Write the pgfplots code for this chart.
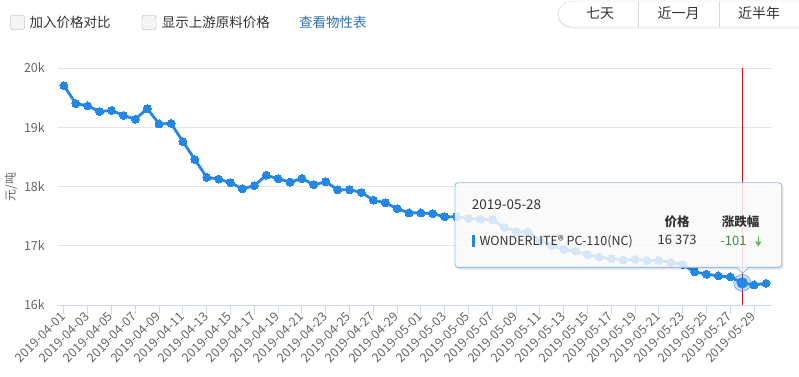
\documentclass[border=0pt]{standalone}
\usepackage{fontspec}
\setmainfont{Noto Sans CJK SC}
\usepackage{pgfplots}
\pgfplotsset{compat=1.18}
\definecolor{linec}{RGB}{36,135,228}
\definecolor{gridc}{RGB}{228,228,228}
\definecolor{axisc}{RGB}{204,214,235}
\definecolor{labc}{RGB}{102,102,102}
\definecolor{txtc}{RGB}{51,51,51}
\definecolor{linkc}{RGB}{45,110,180}
\definecolor{redc}{RGB}{200,20,20}
\definecolor{greenc}{RGB}{60,140,60}
\definecolor{greenar}{RGB}{100,180,80}
\definecolor{tipborder}{RGB}{140,190,235}
\definecolor{btnborder}{RGB}{215,215,215}

\pgfplotstableread{
x y
0 19700
1 19400
2 19360
3 19265
4 19285
5 19200
6 19135
7 19315
8 19055
9 19065
10 18755
11 18455
12 18155
13 18125
14 18065
15 17960
16 18015
17 18190
18 18130
19 18075
20 18135
21 18030
22 18080
23 17945
24 17945
25 17900
26 17770
27 17725
28 17625
29 17555
30 17555
31 17540
32 17490
33 17490
34 17460
35 17450
36 17440
37 17310
38 17240
39 17230
40 17090
41 17000
42 16940
43 16910
44 16850
45 16810
46 16780
47 16760
48 16770
49 16750
50 16750
51 16720
52 16680
53 16560
54 16520
55 16490
56 16474
57 16373
58 16338
59 16366
}\pricedata

\begin{document}
\begin{tikzpicture}[x=1pt,y=1pt]
\path[use as bounding box] (0,0) rectangle (799,376);

% header: checkboxes
\draw[rounded corners=2pt, draw=gray!70, fill=gray!8] (10.5,376-15.5) rectangle (24.5,376-29.5);
\node[anchor=west, inner sep=0, text=txtc, font=\fontsize{13.5}{15}\selectfont] at (29.3,376-22.5) {加入价格对比};
\draw[rounded corners=2pt, draw=gray!70, fill=gray!8] (142,376-15.5) rectangle (156,376-29.5);
\node[anchor=west, inner sep=0, text=txtc, font=\fontsize{13.5}{15}\selectfont] at (161.7,376-22.5) {显示上游原料价格};
\node[anchor=west, inner sep=0, text=linkc, font=\fontsize{13.5}{15}\selectfont] at (299,376-22.5) {查看物性表};

% header: buttons
\fill[gray!12, rounded corners=13pt] (557.5,376-2.5) rectangle (830,376-28.5);
\draw[btnborder, fill=white, rounded corners=13pt] (558.3,376-1) rectangle (830,376-27);
\draw[btnborder] (638.3,376-1.5) -- (638.3,376-26.5);
\draw[btnborder] (719.3,376-1.5) -- (719.3,376-26.5);
\node[inner sep=0, text=txtc, font=\fontsize{14}{16}\selectfont] at (600,376-13.5) {七天};
\node[inner sep=0, text=txtc, font=\fontsize{14}{16}\selectfont] at (678.7,376-13.5) {近一月};
\node[inner sep=0, text=txtc, font=\fontsize{14}{16}\selectfont] at (759,376-13.5) {近半年};

% y label
\node[rotate=90, inner sep=0, text=labc, font=\fontsize{12}{14}\selectfont] at (11,376-187) {元/吨};

\begin{axis}[
  at={(58pt,71pt)}, anchor=south west,
  scale only axis, width=714pt, height=237pt,
  xmin=-0.5, xmax=59.5, ymin=16000, ymax=20000,
  scaled y ticks=false,
  axis x line*=bottom, axis y line*=left,
  y axis line style={draw=none},
  x axis line style={draw=axisc, line width=1pt},
  xtick={0,2,...,58},
  xticklabels={2019-04-01,2019-04-03,2019-04-05,2019-04-07,2019-04-09,2019-04-11,2019-04-13,2019-04-15,2019-04-17,2019-04-19,2019-04-21,2019-04-23,2019-04-25,2019-04-27,2019-04-29,2019-05-01,2019-05-03,2019-05-05,2019-05-07,2019-05-09,2019-05-11,2019-05-13,2019-05-15,2019-05-17,2019-05-19,2019-05-21,2019-05-23,2019-05-25,2019-05-27,2019-05-29},
  ytick={16000,17000,18000,19000,20000},
  yticklabels={16k,17k,18k,19k,20k},
  ymajorgrids, grid style={draw=gridc, line width=0.8pt},
  tick align=outside,
  major tick length=9pt,
  xtick style={draw=axisc, line width=1pt},
  ytick style={draw=none},
  xticklabel style={rotate=45, anchor=east, inner sep=1pt, text=labc, font=\fontsize{12.5}{14}\selectfont},
  yticklabel style={anchor=east, inner sep=0pt, xshift=-4pt, text=labc, font=\fontsize{12.5}{14}\selectfont},
  clip=false,
]
\draw[redc, line width=1pt] (axis cs:57,16000) -- (axis cs:57,20000);
\addplot[linec, line width=2.8pt, mark=*, mark size=4pt, mark options={fill=linec, draw=linec, line width=0pt}] table[x=x,y=y] {\pricedata};
\addplot[linec, only marks, mark=*, mark size=8.5pt, mark options={fill=linec, draw=none, fill opacity=0.25}] coordinates {(57,16373)};
\addplot[linec, only marks, mark=*, mark size=5.4pt, mark options={fill=linec, draw=none}] coordinates {(57,16373)};
\end{axis}

% tooltip
\fill[black, opacity=0.06, rounded corners=3pt] (456.5,376-184.2) rectangle (783.7,376-269.8);
\fill[black, opacity=0.05, rounded corners=3pt] (456,376-183.7) rectangle (783,376-268.8);
\fill[white, fill opacity=0.82, rounded corners=3pt] (455,376-182.7) rectangle (781.7,376-267.3);
\draw[tipborder, line width=0.9pt, rounded corners=3pt] (455,376-182.7) rectangle (781.7,376-267.3);
\fill[white, fill opacity=0.82] (736.2,376-267.3) -- (742.7,376-273) -- (749.2,376-267.3) -- cycle;
\draw[tipborder, line width=0.9pt] (736.2,376-267.3) -- (742.7,376-273) -- (749.2,376-267.3);
\node[anchor=west, inner sep=0, text=txtc, font=\fontsize{13.5}{15}\selectfont] at (471.7,376-204.3) {2019-05-28};
\node[inner sep=0, text=txtc, font=\fontsize{12.5}{14}\selectfont\bfseries] at (677,376-221.7) {价格};
\node[inner sep=0, text=txtc, font=\fontsize{12.5}{14}\selectfont\bfseries] at (740.5,376-221.7) {涨跌幅};
\fill[linec] (472.3,376-235) rectangle (475.3,376-246.7);
\node[anchor=west, inner sep=0, text=txtc, font=\fontsize{12.5}{14}\selectfont] at (479.3,376-241.5) {WONDERLITE® PC-110(NC)};
\node[inner sep=0, text=txtc, font=\fontsize{13}{14}\selectfont] at (677.2,376-240) {16 373};
\node[inner sep=0, text=greenc, font=\fontsize{13}{14}\selectfont] at (733.5,376-240.5) {-101};
\draw[greenar, line width=1.3pt] (758.3,376-235.5) -- (758.3,376-242);
\fill[greenar] (755,376-241.5) -- (761.6,376-241.5) -- (758.3,376-246.5) -- cycle;
\end{tikzpicture}
\end{document}
